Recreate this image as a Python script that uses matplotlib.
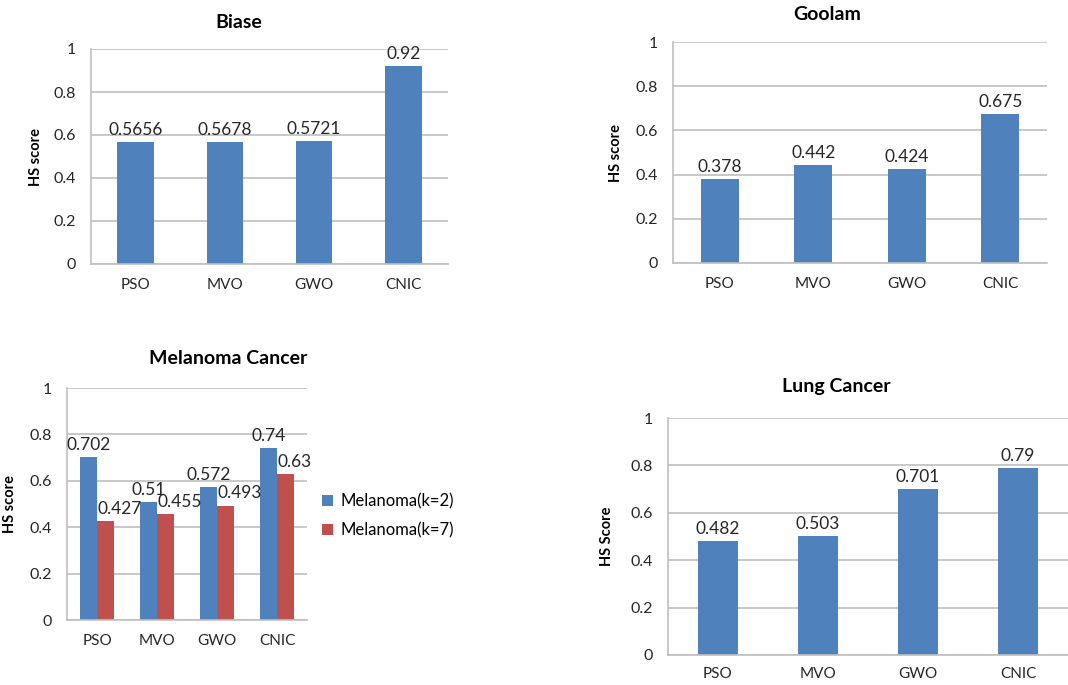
"""HS score comparison of clustering methods over four datasets."""

import matplotlib
matplotlib.use("Agg")
import matplotlib.pyplot as plt
import numpy as np

plt.rcParams.update({
    "font.family": ["Lato", "DejaVu Sans"],
    "axes.facecolor": "white",
    "axes.edgecolor": "#bfbfbf",
    "axes.spines.top": False,
    "axes.spines.right": False,
    "xtick.labelsize": 11,
    "ytick.labelsize": 11.5,
})

methods = ["PSO", "MVO", "GWO", "CNIC"]
biase = [0.5656, 0.5678, 0.5721, 0.92]
biase_txt = ["0.5656", "0.5678", "0.5721", "0.92"]
goolam = [0.378, 0.442, 0.424, 0.675]
goolam_txt = ["0.378", "0.442", "0.424", "0.675"]
mel_k2 = [0.702, 0.51, 0.572, 0.74]
mel_k2_txt = ["0.702", "0.51", "0.572", "0.74"]
mel_k7 = [0.427, 0.455, 0.493, 0.63]
mel_k7_txt = ["0.427", "0.455", "0.493", "0.63"]
lung = [0.482, 0.503, 0.701, 0.79]
lung_txt = ["0.482", "0.503", "0.701", "0.79"]

BLUE = "#4f81bd"
RED = "#c0504d"
W, H = 1068, 685

fig = plt.figure(figsize=(W / 100, H / 100), dpi=100)


def box(left, top, right, bottom):
    return [left / W, 1 - bottom / H, (right - left) / W, (bottom - top) / H]


def style(ax, ylabel, ylab_x, xpad=10):
    ax.set_ylim(0, 1)
    ax.set_xlim(-0.5, len(methods) - 0.5)
    ax.set_yticks(np.arange(0, 1.01, 0.2))
    ax.set_yticklabels(["0", "0.2", "0.4", "0.6", "0.8", "1"])
    ax.set_xticks(range(len(methods)))
    ax.set_xticklabels(methods)
    ax.tick_params(axis="both", length=0, colors="#262626")
    ax.tick_params(axis="y", pad=11)
    ax.tick_params(axis="x", pad=xpad)
    ax.yaxis.grid(True, color="#bfbfbf", linewidth=1.2)
    ax.set_axisbelow(True)
    ax.spines["left"].set_linewidth(1.2)
    ax.spines["bottom"].set_linewidth(1.2)
    ax.set_ylabel(ylabel, fontsize=10.5, fontweight="bold")
    ax.yaxis.set_label_coords(ylab_x, 0.5)


def labels(ax, xs, vals, txts, ha="center"):
    for x, v, t in zip(xs, vals, txts):
        ax.annotate(t, (x, v), xytext=(0, 3), textcoords="offset points",
                    ha=ha, va="bottom", fontsize=12.5, color="#262626")


def title(text, x, y):
    fig.text(x / W, 1 - y / H, text, ha="center", va="center",
             fontsize=14, fontweight="bold")


x = np.arange(len(methods))

# Biase
ax1 = fig.add_axes(box(91, 49, 448, 264))
ax1.bar(x, biase, width=0.41, color=BLUE)
labels(ax1, x, biase, biase_txt)
style(ax1, "HS score", -0.135)
title("Biase", 239, 22)

# Goolam
ax2 = fig.add_axes(box(673, 42, 1047, 263))
ax2.bar(x, goolam, width=0.41, color=BLUE)
labels(ax2, x, goolam, goolam_txt)
style(ax2, "HS score", -0.134)
title("Goolam", 827, 14)

# Melanoma, two cluster settings side by side
w = 0.28
ax3 = fig.add_axes(box(67, 388, 307, 620))
b1 = ax3.bar(x - w / 2, mel_k2, width=w, color=BLUE, label="Melanoma(k=2)")
b2 = ax3.bar(x + w / 2, mel_k7, width=w, color=RED, label="Melanoma(k=7)")
labels(ax3, x - w / 2, mel_k2, mel_k2_txt)
labels(ax3, x, mel_k7, mel_k7_txt, ha="left")
style(ax3, "HS score", -0.21)
title("Melanoma Cancer", 228, 359)
fig.legend(handles=[b1, b2], loc="center left",
           bbox_to_anchor=(322 / W, 1 - 516 / H), frameon=False,
           fontsize=12, handlelength=0.65, handleheight=0.65,
           handletextpad=0.45, labelspacing=0.75, borderaxespad=0,
           borderpad=0)

# Lung cancer
ax4 = fig.add_axes(box(668, 418, 1068, 655))
ax4.bar(x, lung, width=0.4, color=BLUE)
labels(ax4, x, lung, lung_txt)
style(ax4, "HS Score", -0.135, xpad=9)
title("Lung Cancer", 836, 387)

fig.savefig("out.png", dpi=100, facecolor="white")
